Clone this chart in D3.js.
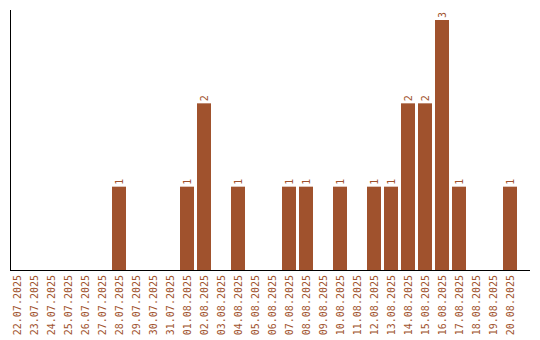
<!DOCTYPE html>
<html>
<head>
<meta charset="utf-8">
<script src="https://cdn.jsdelivr.net/npm/d3@7"></script>
<style>
body { margin: 0; background: #fff; }
text { font-family: "DejaVu Sans Mono", monospace; font-size: 10px; fill: #a0522d; }
</style>
</head>
<body>
<div></div>
<script>
// datos
var dates = ['22.07.2025','23.07.2025','24.07.2025','25.07.2025','26.07.2025','27.07.2025',
    '28.07.2025','29.07.2025','30.07.2025','31.07.2025','01.08.2025','02.08.2025','03.08.2025',
    '04.08.2025','05.08.2025','06.08.2025','07.08.2025','08.08.2025','09.08.2025','10.08.2025',
    '11.08.2025','12.08.2025','13.08.2025','14.08.2025','15.08.2025','16.08.2025','17.08.2025',
    '18.08.2025','19.08.2025','20.08.2025']
var counts = [0,0,0,0,0,0, 1,0,0,0,1,2,0, 1,0,0,1,1,0,1, 0,1,1,2,2,3,1, 0,0,1]

var w = 540
var h = 340
var base = 270
var left = 10

var svg = d3.select('div')
    .append('svg')
    .attr('width', w)
    .attr('height', h)

var data = dates.map((d, i) => ({date: d, value: counts[i]}))

var scaleX = d3.scaleBand()
    .domain(dates)
    .range([left, left + dates.length * 17 - 3])
    .paddingInner(3 / 17)
    .paddingOuter(0)

var scaleY = d3.scaleLinear()
    .domain([0, d3.max(counts)])
    .range([base, 20])

// barras
svg.append('g')
    .selectAll('rect')
    .data(data.filter(d => d.value > 0))
    .enter()
    .append('rect')
    .attr('x', d => scaleX(d.date))
    .attr('y', d => scaleY(d.value))
    .attr('width', scaleX.bandwidth())
    .attr('height', d => base - scaleY(d.value))
    .attr('fill', '#a0522d')

// etiquetas de valor
svg.append('g')
    .selectAll('text')
    .data(data.filter(d => d.value > 0))
    .enter()
    .append('text')
    .attr('transform', d => 'translate(' + (scaleX(d.date) + scaleX.bandwidth() / 2) + ',' + (scaleY(d.value) - 2) + ') rotate(-90)')
    .attr('dy', '0.35em')
    .attr('text-anchor', 'start')
    .text(d => d.value)

// eje x (solo etiquetas)
var xaxis = d3.axisBottom(scaleX).tickSize(0)
var gx = svg.append('g')
    .attr('transform', 'translate(0,' + base + ')')
    .call(xaxis)
gx.select('.domain').remove()
gx.selectAll('text')
    .attr('font-family', null)
    .attr('font-size', null)
    .attr('y', 0)
    .attr('x', -5)
    .attr('dy', '0.35em')
    .attr('transform', 'rotate(-90)')
    .attr('text-anchor', 'end')

// lineas de ejes
svg.append('line')
    .attr('x1', left + 0.5).attr('x2', left + 0.5)
    .attr('y1', 10).attr('y2', base + 0.5)
    .attr('stroke', '#000')
svg.append('line')
    .attr('x1', left).attr('x2', 530)
    .attr('y1', base + 0.5).attr('y2', base + 0.5)
    .attr('stroke', '#000')
</script>
</body>
</html>
